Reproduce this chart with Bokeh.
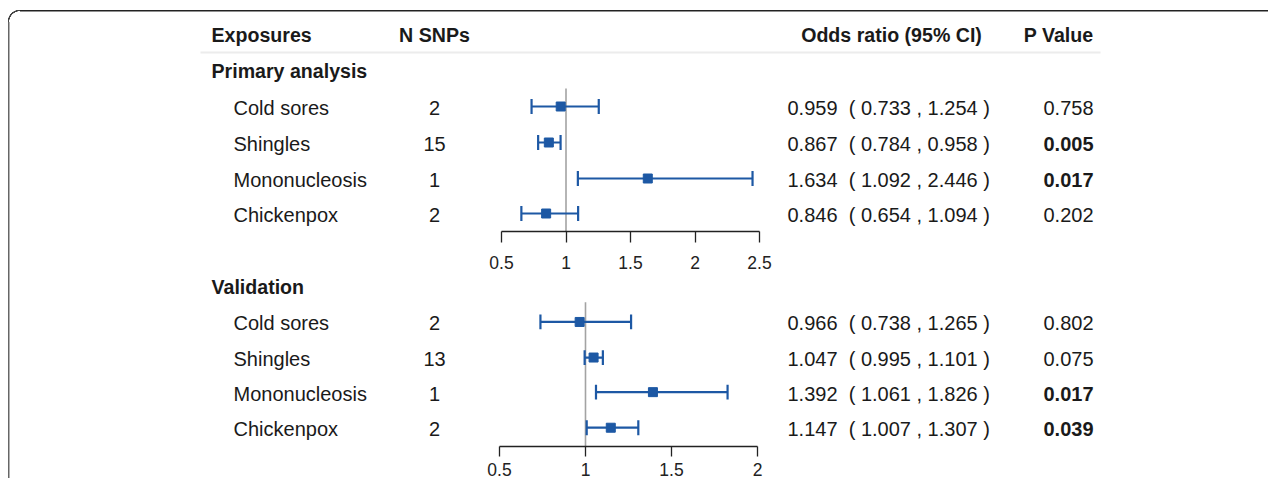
from bokeh.plotting import figure
from bokeh.models import Range1d, FixedTicker, ColumnDataSource
from bokeh.layouts import column
from bokeh.core.properties import value
from bokeh.embed import file_html
from bokeh.resources import INLINE

# ---------------- data ----------------
HEADERS = ["Exposures", "N SNPs", "Odds ratio (95% CI)", "P Value"]
SECTIONS = ["Primary analysis", "Validation"]
EXPOSURES = ["Cold sores", "Shingles", "Mononucleosis", "Chickenpox"]

PRIMARY_N = [2, 15, 1, 2]
PRIMARY_OR = [0.959, 0.867, 1.634, 0.846]
PRIMARY_LO = [0.733, 0.784, 1.092, 0.654]
PRIMARY_HI = [1.254, 0.958, 2.446, 1.094]
PRIMARY_P = [0.758, 0.005, 0.017, 0.202]

VALID_N = [2, 13, 1, 2]
VALID_OR = [0.966, 1.047, 1.392, 1.147]
VALID_LO = [0.738, 0.995, 1.061, 1.007]
VALID_HI = [1.265, 1.101, 1.826, 1.307]
VALID_P = [0.802, 0.075, 0.017, 0.039]

PRIMARY_TICKS = [0.5, 1, 1.5, 2, 2.5]
PRIMARY_TICK_LABELS = ["0.5", "1", "1.5", "2", "2.5"]
VALID_TICKS = [0.5, 1, 1.5, 2]
VALID_TICK_LABELS = ["0.5", "1", "1.5", "2"]

# ---------------- style / layout ----------------
FONT = value("Liberation Sans")
TXT = "#1a1a1a"
BLUE = "#1d58a4"
FIG_W = 1268
FS = "20px"
FS_B = "19.6px"

X_LABEL = 211
X_SUB = 233
X_N = 434
X_OR = 787
X_ORH = 891
X_P = 1093
BASE_OFF = 1.5  # text anchor relative to row centre


def text(p, xs, ys, labels, align="left", bold=False, size=FS):
    src = ColumnDataSource(dict(x=xs, y=[y + BASE_OFF for y in ys], t=labels))
    p.text(x="x", y="y", text="t", source=src, x_range_name="px",
           text_font=FONT, text_font_size=size, text_color=TXT,
           text_font_style="bold" if bold else "normal",
           text_align=align, text_baseline="alphabetic")


def panel(height, frame_top, frame_bottom, axis_l, axis_r, ticks, tick_labels,
          title, title_y, rows_y, ref_top, n, est, lo, hi, pv, standoff,
          tick_out=11, label_lh=1.2, header=False):
    scale = (axis_r - axis_l) / (ticks[-1] - ticks[0])
    start = ticks[0] - axis_l / scale
    p = figure(width=FIG_W, height=height, output_backend="svg", toolbar_location=None,
               x_range=Range1d(start, start + FIG_W / scale),
               y_range=Range1d(frame_bottom, frame_top),
               y_axis_location=None, min_border=0,
               min_border_bottom=height - (frame_bottom - frame_top))
    p.extra_x_ranges = {"px": Range1d(0, FIG_W)}
    p.grid.visible = False
    p.outline_line_color = None
    p.background_fill_color = None
    p.border_fill_color = None

    ax = p.xaxis[0]
    ax.ticker = FixedTicker(ticks=ticks, minor_ticks=[])
    ax.bounds = (ticks[0], ticks[-1])
    ax.major_label_overrides = {t: l for t, l in zip(ticks, tick_labels)}
    ax.major_tick_out = tick_out
    ax.major_tick_in = 0
    ax.minor_tick_line_color = None
    ax.axis_line_color = "#222222"
    ax.major_tick_line_color = "#222222"
    ax.axis_line_width = 1.3
    ax.major_tick_line_width = 1.3
    ax.major_label_text_font = "Liberation Sans"
    ax.major_label_text_font_size = "17.5px"
    ax.major_label_text_color = "#222222"
    ax.major_label_text_line_height = label_lh
    ax.major_label_standoff = standoff

    if header:
        hy = 33
        text(p, [X_LABEL], [hy], [HEADERS[0]], bold=True, size=FS_B)
        text(p, [X_N], [hy], [HEADERS[1]], align="center", bold=True, size=FS_B)
        text(p, [X_ORH], [hy], [HEADERS[2]], align="center", bold=True, size=FS_B)
        text(p, [X_P], [hy], [HEADERS[3]], align="right", bold=True, size=FS_B)
        p.segment(x0=[200], y0=[52], x1=[1100], y1=[52], x_range_name="px",
                  line_color="#ececec", line_width=2)

    text(p, [X_LABEL], [title_y], [title], bold=True, size=FS_B)
    text(p, [X_SUB] * len(EXPOSURES), rows_y, EXPOSURES)
    text(p, [X_N] * len(n), rows_y, [str(v) for v in n], align="center")
    text(p, [X_OR] * len(est), rows_y,
         [f"{e:.3f}\u00a0 ( {a:.3f} , {b:.3f} )" for e, a, b in zip(est, lo, hi)])
    sig = [v < 0.05 for v in pv]
    text(p, [X_P] * sum(sig), [y for y, s in zip(rows_y, sig) if s],
         [f"{v:.3f}" for v, s in zip(pv, sig) if s], align="right", bold=True)
    text(p, [X_P] * (len(pv) - sum(sig)), [y for y, s in zip(rows_y, sig) if not s],
         [f"{v:.3f}" for v, s in zip(pv, sig) if not s], align="right")

    # reference line at OR = 1
    p.segment(x0=[1], y0=[ref_top], x1=[1], y1=[frame_bottom],
              line_color="#a3a3a3", line_width=1.6)
    # CI lines, caps, point estimates
    p.segment(x0=lo, y0=rows_y, x1=hi, y1=rows_y, line_color=BLUE, line_width=2.2)
    cap = 7.5
    p.segment(x0=lo, y0=[y - cap for y in rows_y], x1=lo, y1=[y + cap for y in rows_y],
              line_color=BLUE, line_width=2.2)
    p.segment(x0=hi, y0=[y - cap for y in rows_y], x1=hi, y1=[y + cap for y in rows_y],
              line_color=BLUE, line_width=2.2)
    p.scatter(x=est, y=rows_y, marker="square", size=9, fill_color=BLUE, line_color=BLUE)
    return p


p1 = panel(height=275, frame_top=0, frame_bottom=231, axis_l=501, axis_r=759,
           ticks=PRIMARY_TICKS, tick_labels=PRIMARY_TICK_LABELS,
           title=SECTIONS[0], title_y=69, rows_y=[106, 142, 178, 213], ref_top=88,
           n=PRIMARY_N, est=PRIMARY_OR, lo=PRIMARY_LO, hi=PRIMARY_HI, pv=PRIMARY_P,
           standoff=13, header=True)
p2 = panel(height=203, frame_top=275, frame_bottom=448, axis_l=499, axis_r=757,
           ticks=VALID_TICKS, tick_labels=VALID_TICK_LABELS,
           title=SECTIONS[1], title_y=285, rows_y=[322, 358, 393, 429], ref_top=302,
           n=VALID_N, est=VALID_OR, lo=VALID_LO, hi=VALID_HI, pv=VALID_P,
           standoff=6, tick_out=10, label_lh=0.6)

BORDER_BG = ", ".join([
    "linear-gradient(#222222, #222222) 20px 10px / 100% 1.5px no-repeat",
    "linear-gradient(#666666, #666666) 8px 22px / 1.5px 100% no-repeat",
    "radial-gradient(circle at 12px 12px, transparent 10.6px, #444444 11px, "
    "#444444 12.1px, transparent 12.5px) 8px 10px / 12px 12px no-repeat",
    "#ffffff",
])

layout = column(p1, p2, width=FIG_W, height=478, margin=(0, 0, -8, 0),
                styles={"background": BORDER_BG})

open("out.html", "w").write(file_html(layout, INLINE))
